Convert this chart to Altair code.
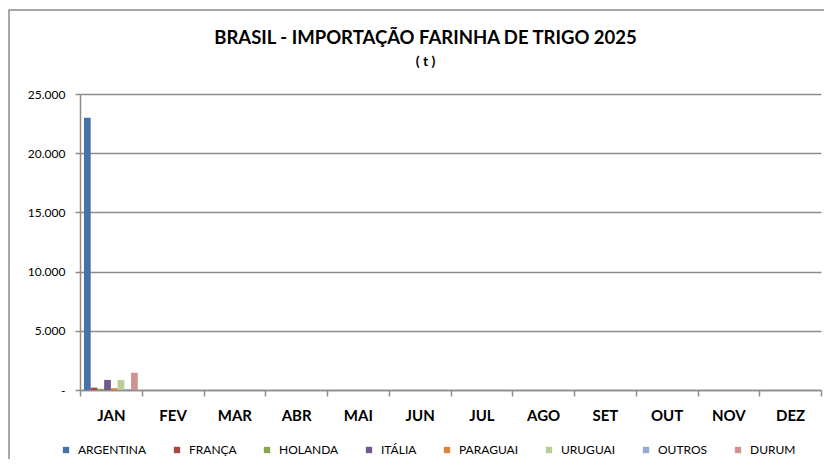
import altair as alt
import pandas as pd

months = ["JAN", "FEV", "MAR", "ABR", "MAI", "JUN", "JUL", "AGO", "SET", "OUT", "NOV", "DEZ"]
countries = ["ARGENTINA", "FRANÇA", "HOLANDA", "ITÁLIA", "PARAGUAI", "URUGUAI", "OUTROS", "DURUM"]
jan_values = [23000, 200, 100, 850, 150, 850, 80, 1450]
colors = ["#4572A7", "#AA4643", "#89A54E", "#71588F", "#DB843D", "#B9CD96", "#93A9CF", "#D19392"]
y_ticks = [0, 5000, 10000, 15000, 20000, 25000]

df = pd.DataFrame({"mes": ["JAN"] * len(countries), "pais": countries, "t": jan_values})

FONT = "Lato"
GRID = "#8c8c8c"

bars = alt.Chart(df).mark_bar().encode(
    x=alt.X("mes:N", sort=months,
            scale=alt.Scale(domain=months, paddingInner=0, paddingOuter=0),
            axis=alt.Axis(title=None, labelAngle=0, labelFont=FONT, labelFontSize=15,
                          labelFontWeight="bold", labelColor="black", labelPadding=12,
                          tickBand="extent", tickSize=6, tickColor=GRID, tickWidth=1.5,
                          domainColor=GRID, domainWidth=1.5, grid=False)),
    xOffset=alt.XOffset("pais:N", sort=countries,
                        scale=alt.Scale(domain=countries, paddingInner=0, paddingOuter=0.59)),
    y=alt.Y("t:Q", scale=alt.Scale(domain=[0, 25000], nice=False),
            axis=alt.Axis(title=None, values=y_ticks, labelFont=FONT, labelFontSize=12,
                          labelColor="black", labelPadding=10, tickSize=5, tickColor=GRID,
                          tickWidth=1.5, domainColor=GRID, domainWidth=1.5,
                          gridColor=GRID, gridWidth=1.5,
                          labelExpr="datum.value == 0 ? '-' : replace(format(datum.value, ','), ',', '.')")),
    color=alt.Color("pais:N", sort=countries,
                    scale=alt.Scale(domain=countries, range=colors),
                    legend=alt.Legend(title=None, orient="none", direction="horizontal",
                                      legendX=-20, legendY=350, columns=8, columnPadding=24,
                                      symbolType="square", symbolSize=40, symbolStrokeWidth=0,
                                      labelFont=FONT, labelFontSize=12, labelColor="black",
                                      labelOffset=6)),
)

border = alt.Chart(pd.DataFrame({"a": [0]})).mark_rect(
    fillOpacity=0, stroke="#8c8c8c", strokeWidth=1.5
).encode(
    x=alt.value(-71), x2=alt.value(770), y=alt.value(-84), y2=alt.value(420)
)

chart = alt.layer(border, bars).properties(
    width=741, height=296,
    autosize=alt.AutoSizeParams(type="none"),
    padding={"left": 72, "top": 86, "right": 3, "bottom": 69},
    title=alt.Title("BRASIL - IMPORTAÇÃO FARINHA DE TRIGO 2025", subtitle="( t )",
                    font=FONT, fontSize=18.5, fontWeight="bold", color="black",
                    subtitleFont=FONT, subtitleFontSize=14, subtitleFontWeight="bold",
                    subtitleColor="black", subtitlePadding=8, anchor="middle", dx=-25,
                    offset=-60),
).configure_view(stroke=None)

chart.save("out.html", embed_options={"renderer": "svg", "actions": False})
